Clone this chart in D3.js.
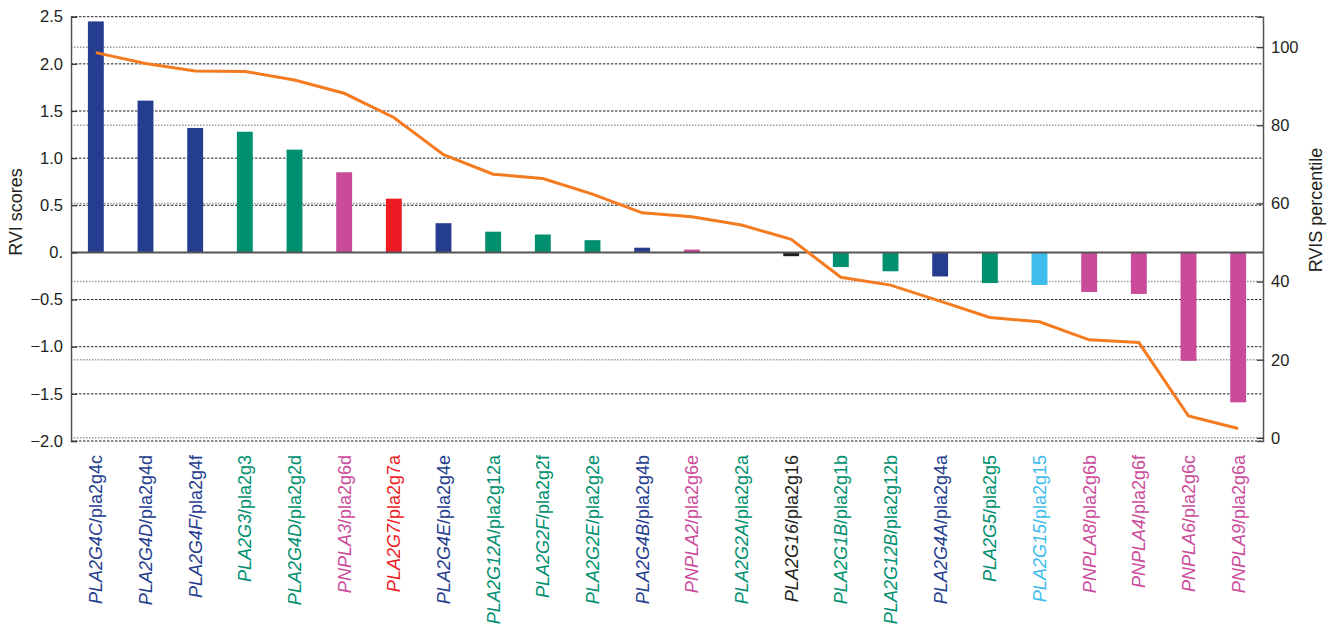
<!DOCTYPE html>
<html>
<head>
<meta charset="utf-8">
<script src="https://cdn.jsdelivr.net/npm/d3@7"></script>
<style>
  body { margin: 0; background: #fff; }
  text { font-family: "Liberation Sans", Arial, sans-serif; }
</style>
</head>
<body>
<div id="container"></div>
<script>
const width = 1339;
const height = 626;

// human gene / zebrafish gene, ordered as in the figure
const humanGenes = ["PLA2G4C", "PLA2G4D", "PLA2G4F", "PLA2G3", "PLA2G4D", "PNPLA3", "PLA2G7", "PLA2G4E",
    "PLA2G12A", "PLA2G2F", "PLA2G2E", "PLA2G4B", "PNPLA2", "PLA2G2A", "PLA2G16", "PLA2G1B",
    "PLA2G12B", "PLA2G4A", "PLA2G5", "PLA2G15", "PNPLA8", "PNPLA4", "PNPLA6", "PNPLA9"];
const fishGenes = ["pla2g4c", "pla2g4d", "pla2g4f", "pla2g3", "pla2g2d", "pla2g6d", "pla2g7a", "pla2g4e",
    "pla2g12a", "pla2g2f", "pla2g2e", "pla2g4b", "pla2g6e", "pla2g2a", "pla2g16", "pla2g1b",
    "pla2g12b", "pla2g4a", "pla2g5", "pla2g15", "pla2g6b", "pla2g6f", "pla2g6c", "pla2g6a"];
const groups = ["cpla2", "cpla2", "cpla2", "spla2", "spla2", "ipla2", "pafah", "cpla2",
    "spla2", "spla2", "spla2", "cpla2", "ipla2", "spla2", "plaat", "spla2",
    "spla2", "cpla2", "spla2", "lpla2", "ipla2", "ipla2", "ipla2", "ipla2"];
const rviScores = [2.45, 1.61, 1.32, 1.28, 1.09, 0.85, 0.57, 0.31, 0.22, 0.19, 0.13, 0.05,
    0.03, 0.0, -0.04, -0.155, -0.2, -0.255, -0.325, -0.345, -0.42, -0.44, -1.15, -1.59];
const rvisPercentile = [98.6, 95.8, 93.9, 93.8, 91.6, 88.2, 82.0, 72.5, 67.5, 66.4, 62.4, 57.6,
    56.6, 54.5, 50.8, 41.1, 39.1, 35.0, 30.8, 29.7, 25.1, 24.4, 5.6, 2.4];
const leftTicks = [2.5, 2.0, 1.5, 1.0, 0.5, 0, -0.5, -1.0, -1.5, -2.0];
const leftTickLabels = ["2.5", "2.0", "1.5", "1.0", "0.5", "0.", "\u22120.5", "\u22121.0", "\u22121.5", "\u22122.0"];
const rightTicks = [0, 20, 40, 60, 80, 100];

const groupColor = d3.scaleOrdinal()
    .domain(["cpla2", "spla2", "ipla2", "pafah", "plaat", "lpla2"])
    .range(["#253d8e", "#00906f", "#cb4b9b", "#ed1c24", "#231f20", "#3ebded"]);

const plotLeft = 71, plotRight = 1263, plotTop = 16.7, plotBottom = 441;

const x = d3.scaleBand().domain(d3.range(humanGenes.length)).range([plotLeft, plotRight]).paddingInner(0.68).paddingOuter(0.34);
const y = d3.scaleLinear().domain([-2.0, 2.5]).range([plotBottom, plotTop]);
const y2 = d3.scaleLinear().domain([-0.8, 107.8]).range([plotBottom, plotTop]);

const svg = d3.select("#container").append("svg")
    .attr("width", width)
    .attr("height", height);

// dashed grid for left axis
svg.append("g")
    .selectAll("line")
    .data(leftTicks.filter(d => d != 0))
    .join("line")
    .attr("x1", plotLeft).attr("x2", plotRight)
    .attr("y1", d => y(d)).attr("y2", d => y(d))
    .attr("stroke", "#222")
    .attr("stroke-width", 1)
    .attr("stroke-dasharray", "2.5,1.5");

// dotted grid for right axis
svg.append("g")
    .selectAll("line")
    .data(rightTicks)
    .join("line")
    .attr("x1", plotLeft).attr("x2", plotRight)
    .attr("y1", d => y2(d)).attr("y2", d => y2(d))
    .attr("stroke", "#9a9a9a")
    .attr("stroke-width", 1.5)
    .attr("stroke-dasharray", "1.5,1.5");

// bars
svg.append("g")
    .selectAll("rect")
    .data(rviScores)
    .join("rect")
    .attr("x", (d, i) => x(i))
    .attr("width", x.bandwidth())
    .attr("y", d => y(Math.max(0, d)))
    .attr("height", d => Math.abs(y(d) - y(0)))
    .attr("fill", (d, i) => groupColor(groups[i]));

// zero line
svg.append("line")
    .attr("x1", plotLeft).attr("x2", plotRight)
    .attr("y1", y(0)).attr("y2", y(0))
    .attr("stroke", "#555")
    .attr("stroke-width", 2);

// percentile line
let line = d3.line()
    .x((d, i) => x(i) + x.bandwidth() / 2)
    .y(d => y2(d));

svg.append("path")
    .datum(rvisPercentile)
    .attr("d", line)
    .attr("fill", "none")
    .attr("stroke", "#f47b20")
    .attr("stroke-width", 3);

// axes
let yAxis = svg.append("g")
    .attr("transform", "translate(" + plotLeft + ",0)")
    .call(d3.axisRight(y).tickValues(leftTicks).tickSize(6).tickFormat((d, i) => leftTickLabels[i]));
yAxis.selectAll("text")
    .attr("x", -8)
    .attr("text-anchor", "end")
    .attr("font-size", 16.5)
    .attr("fill", "#231f20");

let y2Axis = svg.append("g")
    .attr("transform", "translate(" + plotRight + ",0)")
    .call(d3.axisLeft(y2).tickValues(rightTicks).tickSize(6));
y2Axis.selectAll("text")
    .attr("x", 8)
    .attr("text-anchor", "start")
    .attr("font-size", 16.5)
    .attr("fill", "#231f20");

[yAxis, y2Axis].forEach(a => {
    a.select(".domain").attr("stroke", "#555").attr("stroke-width", 1.5);
    a.selectAll(".tick line").attr("stroke", "#333").attr("stroke-width", 1.2);
    a.attr("font-family", null);
});

// axis titles
svg.append("text")
    .attr("transform", "translate(22,212) rotate(-90)")
    .attr("text-anchor", "middle")
    .attr("font-size", 18)
    .attr("fill", "#231f20")
    .text("RVI scores");

svg.append("text")
    .attr("transform", "translate(1316,210) rotate(-90)")
    .attr("text-anchor", "middle")
    .attr("dy", "0.35em")
    .attr("font-size", 18)
    .attr("fill", "#231f20")
    .text("RVIS percentile");

// gene labels
let label = svg.append("g")
    .selectAll("text")
    .data(humanGenes)
    .join("text")
    .attr("transform", (d, i) => "translate(" + (x(i) + x.bandwidth() / 2) + ",455) rotate(-90)")
    .attr("text-anchor", "end")
    .attr("dy", "0.36em")
    .attr("font-size", 18)
    .attr("fill", (d, i) => groupColor(groups[i]));

label.append("tspan")
    .attr("font-style", "italic")
    .text(d => d);

label.append("tspan")
    .text((d, i) => "/" + fishGenes[i]);
</script>
</body>
</html>
